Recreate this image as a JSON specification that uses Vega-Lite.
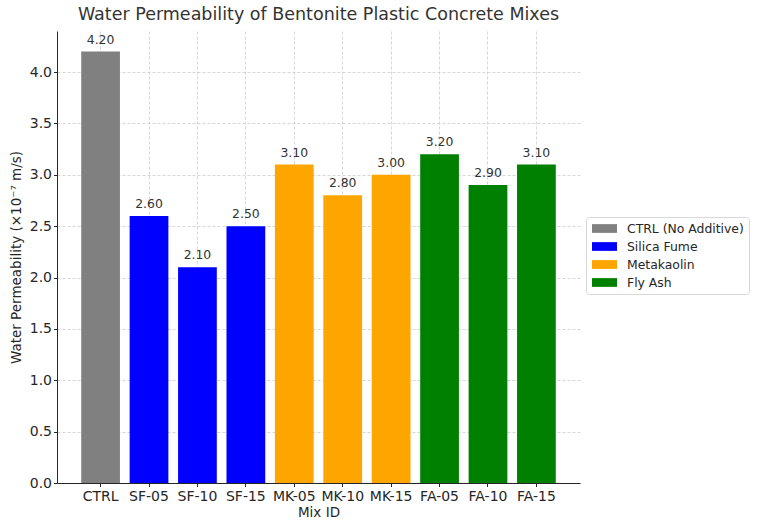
{
  "$schema": "https://vega.github.io/schema/vega-lite/v6.json",
  "width": 523,
  "height": 452,
  "autosize": "none",
  "padding": {"left": 57, "top": 31, "right": 177, "bottom": 47},
  "config": {
    "font": "DejaVu Sans",
    "view": {"stroke": null},
    "axis": {
      "labelFont": "DejaVu Sans",
      "titleFont": "DejaVu Sans",
      "labelColor": "#262626",
      "titleColor": "#262626",
      "titleFontWeight": "normal",
      "domainColor": "#262626",
      "tickColor": "#262626",
      "tickSize": 3.5,
      "gridColor": "#cccccc",
      "gridDash": [3, 2],
      "gridWidth": 0.8,
      "zindex": 1
    }
  },
  "title": {
    "text": "Water Permeability of Bentonite Plastic Concrete Mixes",
    "fontSize": 17.5,
    "fontWeight": "normal",
    "color": "#333333",
    "offset": 8
  },
  "data": {
    "values": [
      {"mix": "CTRL", "group": "CTRL (No Additive)", "perm": 4.2},
      {"mix": "SF-05", "group": "Silica Fume", "perm": 2.6},
      {"mix": "SF-10", "group": "Silica Fume", "perm": 2.1},
      {"mix": "SF-15", "group": "Silica Fume", "perm": 2.5},
      {"mix": "MK-05", "group": "Metakaolin", "perm": 3.1},
      {"mix": "MK-10", "group": "Metakaolin", "perm": 2.8},
      {"mix": "MK-15", "group": "Metakaolin", "perm": 3.0},
      {"mix": "FA-05", "group": "Fly Ash", "perm": 3.2},
      {"mix": "FA-10", "group": "Fly Ash", "perm": 2.9},
      {"mix": "FA-15", "group": "Fly Ash", "perm": 3.1}
    ]
  },
  "encoding": {
    "x": {
      "field": "mix",
      "type": "nominal",
      "sort": null,
      "title": "Mix ID",
      "scale": {"paddingInner": 0.2, "paddingOuter": 0.5},
      "axis": {
        "labelAngle": 0,
        "labelFontSize": 14,
        "titleFontSize": 13.5,
        "titlePadding": 2,
        "labelPadding": 3,
        "bandPosition": 0.5,
        "grid": true
      }
    },
    "y": {
      "field": "perm",
      "type": "quantitative",
      "title": "Water Permeability (×10⁻⁷ m/s)",
      "scale": {"domain": [0, 4.4], "nice": false},
      "axis": {
        "values": [0, 0.5, 1, 1.5, 2, 2.5, 3, 3.5, 4],
        "format": ".1f",
        "labelFontSize": 14,
        "titleFontSize": 13.5,
        "titlePadding": 6,
        "labelPadding": 2,
        "grid": true
      }
    }
  },
  "layer": [
    {
      "mark": {"type": "bar"},
      "encoding": {
        "color": {
          "field": "group",
          "type": "nominal",
          "title": null,
          "scale": {
            "domain": ["CTRL (No Additive)", "Silica Fume", "Metakaolin", "Fly Ash"],
            "range": ["#808080", "#0000ff", "#ffa500", "#008000"]
          },
          "legend": {
            "orient": "none",
            "legendX": 529,
            "legendY": 186,
            "symbolType": "M-2,-0.7H2V0.7H-2Z",
            "symbolSize": 156,
            "symbolOffset": 7,
            "symbolStrokeWidth": 0,
            "labelOffset": 16,
            "labelFontSize": 12.4,
            "labelColor": "#262626",
            "labelFont": "DejaVu Sans",
            "strokeColor": "#d8d8d8",
            "cornerRadius": 3,
            "padding": 5,
            "rowPadding": 5,
            "fillColor": "white"
          }
        }
      }
    },
    {
      "mark": {"type": "text", "baseline": "alphabetic", "dy": -8, "fontSize": 12.4, "color": "#333333"},
      "encoding": {
        "text": {"field": "perm", "type": "quantitative", "format": ".2f"}
      }
    }
  ]
}
